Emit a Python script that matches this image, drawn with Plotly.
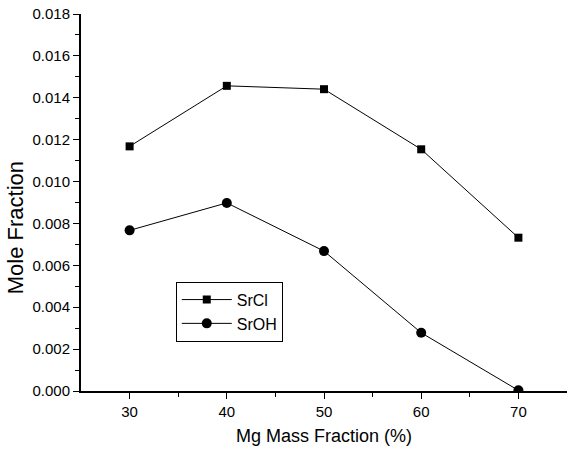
import plotly.graph_objects as go

mg_fraction = [30, 40, 50, 60, 70]
srcl = [0.01168, 0.01457, 0.01441, 0.01154, 0.00732]
sroh = [0.00767, 0.00898, 0.00668, 0.00278, 0.00003]

fig = go.Figure()
fig.add_trace(go.Scatter(x=mg_fraction, y=srcl, mode="lines+markers", name="SrCl",
                         line=dict(color="black", width=1),
                         marker=dict(symbol="square", size=8, color="black")))
fig.add_trace(go.Scatter(x=mg_fraction, y=sroh, mode="lines+markers", name="SrOH",
                         line=dict(color="black", width=1),
                         marker=dict(symbol="circle", size=10, color="black")))

font = "Liberation Sans, Arial, sans-serif"
fig.update_layout(
    width=567, height=459,
    margin=dict(l=81, r=0, t=14, b=68),
    paper_bgcolor="white", plot_bgcolor="white",
    font=dict(family=font, color="black", size=14),
    showlegend=True,
    legend=dict(x=0.195, y=0.29, xanchor="left", yanchor="top",
                bordercolor="black", borderwidth=1, bgcolor="white",
                font=dict(size=16), itemwidth=50, tracegroupgap=0),
    xaxis=dict(range=[25, 75], tickmode="array", tickvals=[30, 40, 50, 60, 70],
               ticks="outside", ticklen=6, tickwidth=1.2, tickcolor="black",
               minor=dict(tickvals=[35, 45, 55, 65], ticks="outside", ticklen=4, tickcolor="black", tickwidth=1),
               showline=True, linecolor="black", linewidth=2, showgrid=False, zeroline=False,
               title=dict(text="Mg Mass Fraction (%)", font=dict(size=18), standoff=10),
               tickfont=dict(size=15)),
    yaxis=dict(range=[0, 0.018], tickmode="array",
               tickvals=[0, 0.002, 0.004, 0.006, 0.008, 0.010, 0.012, 0.014, 0.016, 0.018],
               ticktext=["0.000", "0.002", "0.004", "0.006", "0.008", "0.010", "0.012", "0.014", "0.016", "0.018"],
               ticks="outside", ticklen=6, tickwidth=1.2, tickcolor="black",
               minor=dict(tickvals=[0.001, 0.003, 0.005, 0.007, 0.009, 0.011, 0.013, 0.015, 0.017],
                          ticks="outside", ticklen=4, tickcolor="black", tickwidth=1),
               showline=True, linecolor="black", linewidth=2, showgrid=False, zeroline=False,
               tickfont=dict(size=15)),
    annotations=[dict(text="Mole Fraction", xref="paper", yref="paper",
                      x=-0.1355, y=0.432, xanchor="center", yanchor="middle",
                      textangle=-90, showarrow=False, font=dict(size=22))],
)
fig.write_html("out.html")
